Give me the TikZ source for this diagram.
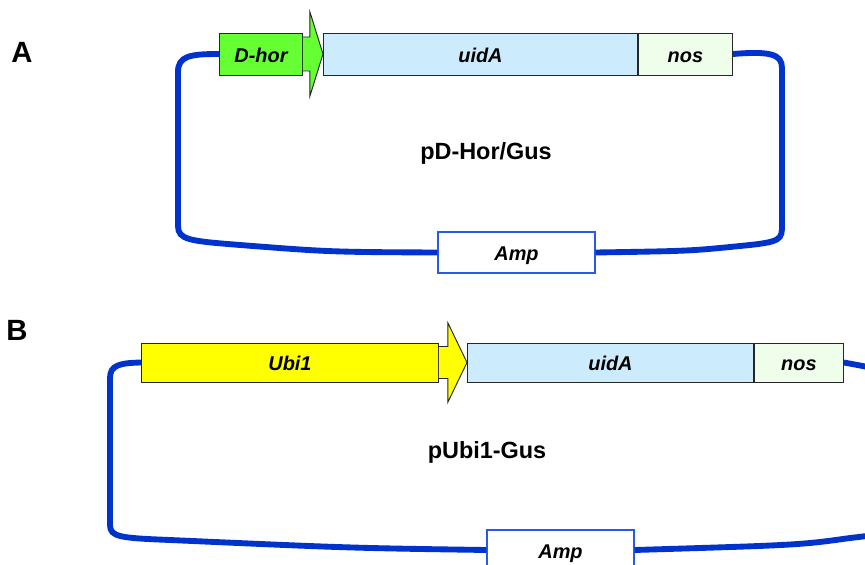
\documentclass[tikz,border=0pt]{standalone}
\usepackage{fontspec}
\setmainfont{Liberation Sans}
\usetikzlibrary{positioning,calc}

\definecolor{plasmidblue}{RGB}{0,51,204}
\definecolor{ampblue}{RGB}{40,90,230}
\definecolor{dhorgreen}{RGB}{102,255,51}
\definecolor{ubiyellow}{RGB}{255,255,0}
\definecolor{uidblue}{RGB}{204,235,252}
\definecolor{nosgreen}{RGB}{238,254,234}

\tikzset{
  gene/.style={draw=black!85, line width=0.8pt, inner sep=0pt, anchor=west,
    text height=14pt, text depth=0pt,
    font=\fontsize{17}{20}\selectfont\bfseries\itshape},
  ampbox/.style={draw=ampblue, fill=white, line width=1pt, inner sep=0pt,
    text height=14pt, text depth=0pt,
    font=\fontsize{17}{20}\selectfont\bfseries\itshape},
  promo/.style={draw=black!85, line width=0.8pt, line join=miter},
  plasmid/.style={draw=plasmidblue, line width=5pt},
  vectorname/.style={font=\fontsize{20}{24}\selectfont\bfseries},
  panel/.style={font=\fontsize{25}{30}\selectfont\bfseries}
}

\begin{document}
\begin{tikzpicture}[x=0.03cm,y=-0.03cm]
	\clip (0,0) rectangle (865,565);
	\fill[white] (0,0) rectangle (865,565);
	
	%PANEL A
	\node[panel] (labA) at (22,52) {A};
	\node[gene,fill=dhorgreen,minimum width=83*0.03cm,minimum height=42*0.03cm] (dhor) at (219,54) {D-hor};
	\node[gene,fill=uidblue,minimum width=314*0.03cm,minimum height=42*0.03cm] (uidA) at (323,54) {uidA};
	\node[gene,fill=nosgreen,minimum width=94*0.03cm,minimum height=42*0.03cm,right=0pt of uidA] (nosA) {nos};
	\draw[promo,fill=dhorgreen] ($(dhor.east)+(0,-17)$) -- ++(7,0) -- ++(0,-25) -- (uidA.west) -- ($(dhor.east)+(7,42)$) -- ++(0,-25) -- ($(dhor.east)+(0,17)$);
	\node[ampbox,minimum width=157*0.03cm,minimum height=41*0.03cm] (ampA) at (516.5,252.5) {Amp};
	\node[vectorname] (nameA) at (486,153) {pD-Hor/Gus};
	
	\draw[plasmid] (dhor.west) .. controls (190,54) and (178,56) .. (178,72) -- (178,226)
		.. controls (178,240) and (190,241) .. (240,245) .. controls (330,252) .. (ampA.west);
	\draw[plasmid] (ampA.east) .. controls (690,251) .. (740,246)
		.. controls (782,242) and (782,240) .. (782,224) -- (782,68)
		.. controls (782,54) and (770,51) .. (nosA.east);
	
	%PANEL B
	\node[panel] (labB) at (17,330) {B};
	\node[gene,fill=ubiyellow,minimum width=297*0.03cm,minimum height=39*0.03cm] (ubi) at (141,362.5) {Ubi1};
	\node[gene,fill=uidblue,minimum width=286*0.03cm,minimum height=39*0.03cm] (uidB) at (467,362.5) {uidA};
	\node[gene,fill=nosgreen,minimum width=89*0.03cm,minimum height=39*0.03cm,right=0pt of uidB] (nosB) {nos};
	\draw[promo,fill=ubiyellow] ($(ubi.east)+(0,-16)$) -- ++(9,0) -- ++(0,-23.5) -- (uidB.west) -- ($(ubi.east)+(9,39.5)$) -- ++(0,-23.5) -- ($(ubi.east)+(0,16)$);
	\node[ampbox,minimum width=147*0.03cm,minimum height=40*0.03cm] (ampB) at (560.5,550) {Amp};
	\node[vectorname] (nameB) at (487,452) {pUbi1-Gus};
	
	\draw[plasmid] (ubi.west) .. controls (120,363) and (110,365) .. (110,378) -- (110,525)
		.. controls (110,537) and (120,538) .. (170,540) .. controls (350,548) .. (ampB.west);
	\draw[plasmid] (ampB.east) .. controls (800,545) .. (850,538)
		.. controls (885,534) .. (885,520) -- (885,385)
		.. controls (885,370) .. (nosB.east);
\end{tikzpicture}
\end{document}
